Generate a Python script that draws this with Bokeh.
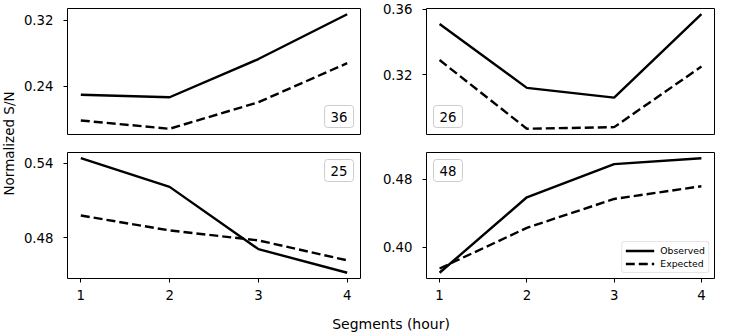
import math
from bokeh.plotting import figure
from bokeh.layouts import row, column
from bokeh.models import Range1d, FixedTicker, Label, Legend
from bokeh.embed import file_html
from bokeh.resources import INLINE

# ---------------- data ----------------
segments = [1, 2, 3, 4]
xtick_labels = ["1", "2", "3", "4"]

panel_ids = ["36", "26", "25", "48"]

observed_36 = [0.230, 0.227, 0.273, 0.327]
expected_36 = [0.199, 0.189, 0.221, 0.268]

observed_26 = [0.351, 0.312, 0.306, 0.357]
expected_26 = [0.329, 0.287, 0.288, 0.325]

observed_25 = [0.544, 0.521, 0.471, 0.452]
expected_25 = [0.498, 0.486, 0.478, 0.462]

observed_48 = [0.370, 0.459, 0.498, 0.505]
expected_48 = [0.375, 0.423, 0.457, 0.472]

yticks_36 = [0.24, 0.32]
ytick_labels_36 = ["0.24", "0.32"]
yticks_26 = [0.32, 0.36]
ytick_labels_26 = ["0.32", "0.36"]
yticks_25 = [0.48, 0.54]
ytick_labels_25 = ["0.48", "0.54"]
yticks_48 = [0.40, 0.48]
ytick_labels_48 = ["0.40", "0.48"]

series_names = ["Observed", "Expected"]
x_title = "Segments (hour)"
y_title = "Normalized S/N"

# ---------------- style / layout ----------------
FONT = "DejaVu Sans"
TICK_SIZE = "13.3px"
FRAME_W = 293
FRAME_H = 126
YLAB_W = 18
LEFT_B = 49      # left border of left-column panels
MID_R = 19       # right border of left-column panels
MID_L = 42       # left border of right-column panels
RIGHT_B = 17
TOP_T, TOP_B = 8, 9
BOT_T, BOT_B = 9, 28
TOTAL_W = YLAB_W + LEFT_B + FRAME_W + MID_R + MID_L + FRAME_W + RIGHT_B
TOTAL_H = 333


def make_panel(obs, exp, yticks, ylabels, pid, corner, show_x,
               bl, br, bt, bb, legend=False):
    lo = min(obs + exp)
    hi = max(obs + exp)
    pad = 0.05 * (hi - lo)
    xlo, xhi = min(segments), max(segments)
    xpad = 0.05 * (xhi - xlo)
    xr = Range1d(xlo - xpad, xhi + xpad)
    yr = Range1d(lo - pad, hi + pad)
    p = figure(width=bl + FRAME_W + br, height=bt + FRAME_H + bb,
               x_range=xr, y_range=yr,
               output_backend="svg", toolbar_location=None,
               x_axis_location="below" if show_x else None,
               min_border_left=bl, min_border_right=br,
               min_border_top=bt, min_border_bottom=bb)
    p.background_fill_color = "white"
    p.border_fill_color = "white"
    p.outline_line_color = "black"
    p.outline_line_width = 1
    p.xgrid.visible = False
    p.ygrid.visible = False

    p.yaxis.ticker = FixedTicker(ticks=yticks)
    p.yaxis.major_label_overrides = {t: l for t, l in zip(yticks, ylabels)}
    if show_x:
        p.xaxis.ticker = FixedTicker(ticks=segments)
        p.xaxis.major_label_overrides = {t: l for t, l in zip(segments, xtick_labels)}
    for ax in p.axis:
        ax.axis_line_color = None
        ax.major_tick_out = 4
        ax.major_tick_in = 0
        ax.major_tick_line_color = "black"
        ax.minor_tick_line_color = None
        ax.major_label_text_font = FONT
        ax.major_label_text_font_size = TICK_SIZE
        ax.major_label_text_color = "black"
    p.yaxis.major_label_standoff = 10
    if show_x:
        p.xaxis.major_label_standoff = 7

    r1 = p.line(segments, obs, line_color="black", line_width=2.4)
    r2 = p.line(segments, exp, line_color="black", line_width=2.4, line_dash="9 4")

    # panel id box
    pos = {"bottom_right": (xr.end, yr.start, -7, 7),
           "bottom_left": (xr.start, yr.start, 7, 7),
           "top_right": (xr.end, yr.end, -7, -7),
           "top_left": (xr.start, yr.end, 7, -7)}[corner]
    lab = Label(x=pos[0], y=pos[1], x_offset=pos[2], y_offset=pos[3],
                text=pid, anchor=corner, padding=6, border_radius=3,
                text_font=FONT, text_font_size=TICK_SIZE, text_color="black",
                border_line_color="#cccccc", border_line_width=1,
                background_fill_color="white", background_fill_alpha=0.8)
    p.add_layout(lab)

    if legend:
        lg = Legend(items=[(series_names[0], [r1]), (series_names[1], [r2])],
                    location="bottom_right", margin=5, padding=3, spacing=2,
                    glyph_width=29, glyph_height=11, label_height=11,
                    label_standoff=6, label_text_font=FONT,
                    label_text_font_size="9.3px", label_text_color="black",
                    border_line_color="#cccccc", border_line_width=1,
                    border_radius=3,
                    background_fill_color="white", background_fill_alpha=0.8)
        p.add_layout(lg)
    return p


p36 = make_panel(observed_36, expected_36, yticks_36, ytick_labels_36, panel_ids[0],
                 "bottom_right", False, LEFT_B, MID_R, TOP_T, TOP_B)
p26 = make_panel(observed_26, expected_26, yticks_26, ytick_labels_26, panel_ids[1],
                 "bottom_left", False, MID_L, RIGHT_B, TOP_T, TOP_B)
p25 = make_panel(observed_25, expected_25, yticks_25, ytick_labels_25, panel_ids[2],
                 "top_right", True, LEFT_B, MID_R, BOT_T, BOT_B)
p48 = make_panel(observed_48, expected_48, yticks_48, ytick_labels_48, panel_ids[3],
                 "top_left", True, MID_L, RIGHT_B, BOT_T, BOT_B, legend=True)

top_h = TOP_T + FRAME_H + TOP_B
bot_h = BOT_T + FRAME_H + BOT_B
xlab_h = TOTAL_H - top_h - bot_h
grid_w = TOTAL_W - YLAB_W


def label_fig(w, h):
    f = figure(width=w, height=h, x_range=Range1d(0, w), y_range=Range1d(0, h),
               output_backend="svg", toolbar_location=None,
               x_axis_location=None, y_axis_location=None, min_border=0)
    f.outline_line_color = None
    f.xgrid.visible = False
    f.ygrid.visible = False
    f.background_fill_color = "white"
    f.border_fill_color = "white"
    return f


# centre of the span covered by the panel frames
frames_left = LEFT_B
frames_right = LEFT_B + FRAME_W + MID_R + MID_L + FRAME_W
xlab_fig = label_fig(grid_w, xlab_h)
xlab_fig.add_layout(Label(x=(frames_left + frames_right) / 2, y=xlab_h - 17,
                          x_units="screen", y_units="screen",
                          text=x_title, text_align="center", text_baseline="middle",
                          text_font=FONT, text_font_size="14px", text_color="black"))

ylab_center_from_top = (TOP_T + (top_h + BOT_T + FRAME_H)) / 2
ylab_fig = label_fig(YLAB_W, TOTAL_H)
ylab_fig.add_layout(Label(x=8, y=TOTAL_H - ylab_center_from_top,
                          x_units="screen", y_units="screen",
                          text=y_title, angle=math.pi / 2,
                          text_align="center", text_baseline="middle",
                          text_font=FONT, text_font_size="13.5px", text_color="black"))

layout = row(ylab_fig, column(row(p36, p26), row(p25, p48), xlab_fig))

open("out.html", "w").write(file_html(layout, INLINE))
